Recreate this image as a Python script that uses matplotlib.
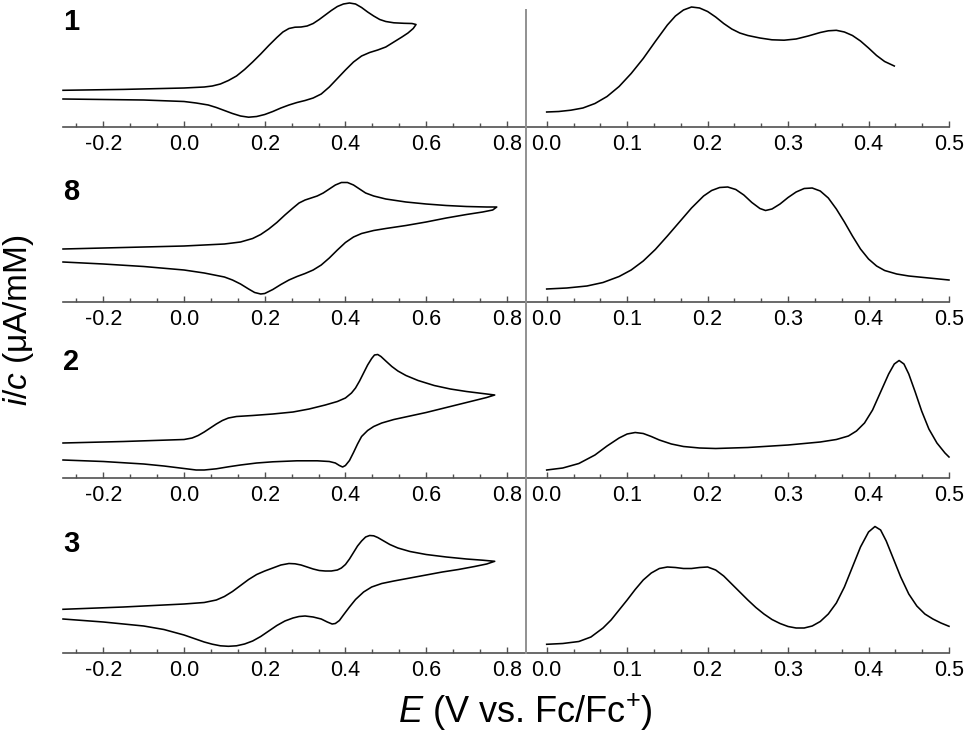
import matplotlib
matplotlib.use('Agg')
import matplotlib.pyplot as plt
from matplotlib.ticker import MultipleLocator, AutoMinorLocator, FormatStrFormatter
from matplotlib.lines import Line2D

plt.rcParams['font.family'] = ['Liberation Sans', 'DejaVu Sans']
plt.rcParams['mathtext.fontset'] = 'custom'
plt.rcParams['mathtext.rm'] = 'Liberation Sans'
plt.rcParams['mathtext.it'] = 'Liberation Sans:italic'
plt.rcParams['axes.unicode_minus'] = False

labels = ['1', '8', '2', '3']

# cyclic voltammograms (E in V vs Fc/Fc+, current in arbitrary i/c units)
# forward scan followed by the return scan
cv1_E = [-0.30, -0.15, 0.0, 0.05, 0.07, 0.09, 0.11, 0.13, 0.15, 0.17, 0.19, 0.21, 0.23, 0.245, 0.26, 0.275,
         0.29, 0.305, 0.32, 0.335, 0.35, 0.365, 0.38, 0.395, 0.41, 0.425, 0.44, 0.455, 0.47, 0.485,
         0.50, 0.52, 0.545, 0.565, 0.575,
         0.568, 0.555, 0.54, 0.52, 0.50, 0.48, 0.46, 0.44, 0.42, 0.40, 0.38, 0.36, 0.34, 0.32, 0.30,
         0.28, 0.26, 0.24, 0.22, 0.20, 0.18, 0.16, 0.14, 0.12, 0.10, 0.08, 0.06, 0.03, 0.0,
         -0.10, -0.20, -0.30]
cv1_i = [3.67, 3.76, 3.90, 4.0, 4.1, 4.3, 4.65, 5.1, 5.75, 6.5, 7.3, 8.15, 8.95, 9.5, 9.85, 9.98,
         10.0, 10.1, 10.35, 10.75, 11.2, 11.65, 12.05, 12.3, 12.4, 12.3, 11.95, 11.5, 11.1, 10.75,
         10.55, 10.42, 10.37, 10.35, 10.25,
         9.85, 9.4, 9.0, 8.5, 8.0, 7.7, 7.45, 7.1, 6.5, 5.7, 4.85, 4.0, 3.3, 2.9, 2.65,
         2.45, 2.2, 1.9, 1.55, 1.25, 1.05, 0.98, 1.1, 1.35, 1.65, 1.95, 2.2, 2.4, 2.55,
         2.7, 2.75, 2.8]

cv8_E = [-0.30, -0.15, 0.0, 0.10, 0.14, 0.17, 0.19, 0.21, 0.23, 0.25, 0.27, 0.285, 0.30, 0.315, 0.33,
         0.345, 0.36, 0.375, 0.39, 0.405, 0.42, 0.435, 0.45, 0.47, 0.50, 0.55, 0.60, 0.65, 0.70,
         0.75, 0.775,
         0.765, 0.74, 0.70, 0.65, 0.60, 0.55, 0.50, 0.47, 0.44, 0.42, 0.40, 0.38, 0.36, 0.34, 0.32,
         0.30, 0.28, 0.26, 0.24, 0.22, 0.20, 0.19, 0.175, 0.16, 0.14, 0.12, 0.10, 0.05, 0.0,
         -0.10, -0.20, -0.30]
cv8_i = [5.3, 5.45, 5.6, 5.8, 6.0, 6.35, 6.75, 7.3, 7.95, 8.7, 9.4, 9.9, 10.2, 10.4, 10.6,
         10.9, 11.3, 11.7, 11.95, 11.95, 11.7, 11.3, 10.9, 10.6, 10.3, 10.0, 9.8, 9.65, 9.55,
         9.5, 9.5,
         9.2, 9.0, 8.75, 8.4, 8.0, 7.65, 7.35, 7.15, 6.85, 6.5, 5.95, 5.2, 4.4, 3.7, 3.2,
         2.85, 2.55, 2.2, 1.75, 1.25, 0.85, 0.8, 0.95, 1.3, 1.8, 2.2, 2.5, 2.9, 3.2,
         3.55, 3.8, 4.0]

cv2_E = [-0.30, -0.15, 0.0, 0.02, 0.035, 0.05, 0.065, 0.08, 0.095, 0.11, 0.13, 0.17, 0.22, 0.27, 0.31,
         0.35, 0.38, 0.40, 0.415, 0.425, 0.435, 0.445, 0.455, 0.465, 0.472, 0.48, 0.488, 0.50,
         0.515, 0.53, 0.55, 0.58, 0.62, 0.66, 0.70, 0.74, 0.77,
         0.75, 0.72, 0.68, 0.64, 0.60, 0.56, 0.52, 0.49, 0.47, 0.455, 0.44, 0.43, 0.42, 0.41, 0.40,
         0.393, 0.385, 0.375, 0.36, 0.33, 0.28, 0.22, 0.18, 0.14, 0.11, 0.08, 0.05, 0.03, 0.0,
         -0.05, -0.10, -0.20, -0.30]
cv2_i = [3.5, 3.65, 3.85, 4.0, 4.25, 4.6, 5.0, 5.4, 5.75, 6.0, 6.15, 6.25, 6.4, 6.6, 6.9,
         7.3, 7.65, 8.0, 8.5, 9.0, 9.7, 10.5, 11.3, 11.95, 12.3, 12.35, 12.15, 11.7,
         11.15, 10.7, 10.25, 9.75, 9.25, 8.9, 8.65, 8.45, 8.3,
         8.05, 7.75, 7.35, 6.95, 6.55, 6.2, 5.85, 5.5, 5.15, 4.75, 4.15, 3.4, 2.55, 1.75, 1.25,
         1.1, 1.25, 1.5, 1.65, 1.72, 1.72, 1.62, 1.5, 1.3, 1.12, 0.92, 0.8, 0.8, 0.95,
         1.2, 1.4, 1.65, 1.8]

cv3_E = [-0.30, -0.15, 0.0, 0.05, 0.08, 0.10, 0.12, 0.14, 0.16, 0.18, 0.20, 0.22, 0.24, 0.26, 0.275,
         0.29, 0.305, 0.32, 0.335, 0.35, 0.365, 0.38, 0.39, 0.40, 0.41, 0.42, 0.43, 0.44, 0.45,
         0.46, 0.47, 0.48, 0.495, 0.51, 0.53, 0.56, 0.60, 0.65, 0.70, 0.74, 0.77,
         0.75, 0.72, 0.68, 0.64, 0.60, 0.56, 0.52, 0.49, 0.465, 0.445, 0.425, 0.41, 0.395, 0.385,
         0.375, 0.367, 0.355, 0.34, 0.32, 0.30, 0.285, 0.27, 0.25, 0.23, 0.21, 0.19, 0.17, 0.15,
         0.13, 0.11, 0.09, 0.07, 0.05, 0.03, 0.0, -0.05, -0.10, -0.20, -0.30]
cv3_i = [4.37, 4.6, 4.9, 5.05, 5.3, 5.65, 6.15, 6.75, 7.35, 7.85, 8.2, 8.5, 8.8, 8.95, 8.92,
         8.8, 8.6, 8.4, 8.25, 8.2, 8.2, 8.3, 8.5, 8.85, 9.4, 10.05, 10.7, 11.2, 11.6,
         11.75, 11.72, 11.55, 11.2, 10.85, 10.5, 10.15, 9.85, 9.6, 9.4, 9.28, 9.17,
         8.9, 8.65, 8.35, 8.1, 7.8, 7.5, 7.2, 6.95, 6.6, 6.1, 5.35, 4.6, 3.8, 3.25,
         2.95, 2.9, 3.1, 3.4, 3.6, 3.7, 3.65, 3.5, 3.2, 2.75, 2.2, 1.65, 1.2, 0.9,
         0.72, 0.67, 0.72, 0.88, 1.1, 1.38, 1.8, 2.35, 2.7, 3.1, 3.4]

# differential pulse voltammograms
dp1_E = [0.0, 0.015, 0.03, 0.045, 0.06, 0.075, 0.09, 0.105, 0.12, 0.135, 0.15, 0.16, 0.17, 0.18, 0.19,
         0.20, 0.21, 0.22, 0.23, 0.24, 0.25, 0.265, 0.28, 0.295, 0.31, 0.325, 0.34, 0.35, 0.36,
         0.37, 0.38, 0.39, 0.40, 0.41, 0.42, 0.432]
dp1_i = [1.50, 1.55, 1.68, 1.90, 2.35, 3.05, 4.05, 5.35, 6.85, 8.55, 10.2, 11.1, 11.7, 12.0, 11.9,
         11.55, 11.0, 10.35, 9.8, 9.4, 9.15, 8.9, 8.72, 8.68, 8.8, 9.1, 9.45, 9.62, 9.67,
         9.5, 9.15, 8.6, 7.9, 7.15, 6.55, 6.1]

dp8_E = [0.0, 0.025, 0.05, 0.07, 0.09, 0.105, 0.12, 0.135, 0.15, 0.165, 0.18, 0.195, 0.205, 0.215,
         0.225, 0.235, 0.245, 0.255, 0.265, 0.272, 0.28, 0.29, 0.30, 0.31, 0.32, 0.33, 0.34, 0.35,
         0.36, 0.37, 0.38, 0.39, 0.40, 0.41, 0.42, 0.435, 0.45, 0.475, 0.50]
dp8_i = [1.3, 1.4, 1.6, 1.95, 2.55, 3.2, 4.1, 5.25, 6.6, 8.0, 9.4, 10.6, 11.15, 11.45,
         11.5, 11.25, 10.7, 9.95, 9.35, 9.15, 9.3, 9.8, 10.45, 11.0, 11.35, 11.4, 11.1, 10.4,
         9.3, 8.0, 6.6, 5.3, 4.3, 3.6, 3.15, 2.8, 2.6, 2.4, 2.2]

dp2_E = [0.0, 0.02, 0.04, 0.06, 0.075, 0.09, 0.10, 0.11, 0.12, 0.13, 0.14, 0.155, 0.17, 0.19, 0.21,
         0.25, 0.30, 0.34, 0.36, 0.375, 0.385, 0.395, 0.405, 0.415, 0.425, 0.432, 0.438, 0.444,
         0.45, 0.458, 0.466, 0.475, 0.485, 0.495, 0.50]
dp2_i = [0.8, 1.0, 1.45, 2.3, 3.2, 4.0, 4.4, 4.55, 4.45, 4.15, 3.8, 3.4, 3.15, 3.0, 2.95,
         3.05, 3.3, 3.6, 3.85, 4.2, 4.7, 5.5, 6.8, 8.6, 10.4, 11.4, 11.75, 11.4,
         10.4, 8.6, 6.7, 4.9, 3.5, 2.5, 2.1]

dp3_E = [0.0, 0.02, 0.04, 0.055, 0.07, 0.08, 0.09, 0.10, 0.11, 0.12, 0.13, 0.14, 0.15, 0.16, 0.17,
         0.18, 0.19, 0.20, 0.21, 0.22, 0.23, 0.24, 0.25, 0.26, 0.27, 0.28, 0.29, 0.30, 0.31, 0.32,
         0.33, 0.34, 0.35, 0.36, 0.37, 0.38, 0.39, 0.40, 0.408, 0.415, 0.422, 0.43, 0.44, 0.45,
         0.46, 0.47, 0.48, 0.49, 0.50]
dp3_i = [0.87, 0.95, 1.15, 1.6, 2.5, 3.3, 4.3, 5.3, 6.35, 7.3, 8.0, 8.45, 8.6, 8.55, 8.45,
         8.45, 8.55, 8.6, 8.3, 7.7, 6.9, 6.1, 5.3, 4.55, 3.9, 3.35, 2.95, 2.65, 2.5, 2.5,
         2.7, 3.15, 3.9, 5.0, 6.6, 8.6, 10.6, 12.1, 12.65, 12.3, 11.2, 9.6, 7.6, 5.9,
         4.7, 3.9, 3.4, 3.0, 2.67]

cv_data = [(cv1_E, cv1_i), (cv8_E, cv8_i), (cv2_E, cv2_i), (cv3_E, cv3_i)]
dp_data = [(dp1_E, dp1_i), (dp8_E, dp8_i), (dp2_E, dp2_i), (dp3_E, dp3_i)]

W, H = 966, 733
fig = plt.figure(figsize=(W / 100, H / 100), dpi=100)

axis_y = [127, 302, 478, 653]      # pixel rows of the bottom axes
label_y = [22, 192, 362, 544]
ax_h = 127
spine_col = '#505050'

def style(ax):
    for s in ['top', 'left', 'right']:
        ax.spines[s].set_visible(False)
    ax.spines['bottom'].set_color(spine_col)
    ax.spines['bottom'].set_linewidth(1.2)
    ax.set_yticks([])
    ax.xaxis.set_minor_locator(AutoMinorLocator(3))
    ax.xaxis.set_major_formatter(FormatStrFormatter('%.1f'))
    ax.tick_params(axis='x', which='major', direction='in', length=4.5, width=1.0,
                   color=spine_col, labelsize=15.5, pad=5)
    ax.tick_params(axis='x', which='minor', direction='in', length=3, width=1.0, color=spine_col)
    ax.set_ylim(0, 12.7)
    ax.patch.set_alpha(0)

for k in range(4):
    b = (H - axis_y[k]) / H
    h = ax_h / H
    axl = fig.add_axes([63 / W, b, (526 - 63) / W, h])
    E, cur = cv_data[k]
    axl.plot(E, cur, color='black', lw=1.15, clip_on=False, solid_joinstyle='round')
    axl.set_xlim(-0.3, 0.8475)
    axl.xaxis.set_major_locator(MultipleLocator(0.2))
    style(axl)

    axr = fig.add_axes([526 / W, b, (949 - 526) / W, h])
    E, cur = dp_data[k]
    axr.plot(E, cur, color='black', lw=1.15, clip_on=False, solid_joinstyle='round')
    axr.set_xlim(-0.0257, 0.5)
    axr.xaxis.set_major_locator(MultipleLocator(0.1))
    style(axr)

    fig.text(71 / W, 1 - label_y[k] / H, labels[k], fontsize=21, fontweight='bold',
             ha='center', va='center')

# separator between the CV and DPV columns
fig.add_artist(Line2D([526 / W, 526 / W], [1 - 10 / H, 1 - 653 / H], color='#909090', lw=1.4))

fig.text(19 / W, 1 - 320 / H, r'$i/c$ (μA/mM)', rotation=90, fontsize=24, ha='center', va='center')
fig.text(525 / W, 1 - 712 / H, r'$E$ (V vs. Fc/Fc$^{+}$)', fontsize=26, ha='center', va='center')

fig.savefig('out.png', dpi=100)
